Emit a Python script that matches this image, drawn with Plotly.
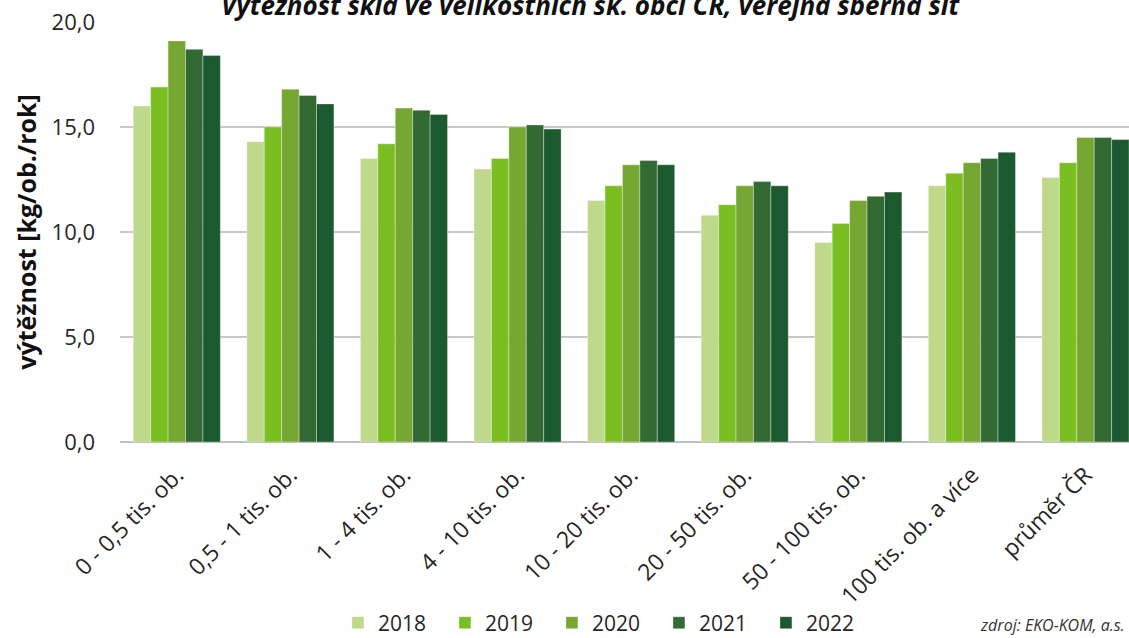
import plotly.graph_objects as go

categories = ["0 - 0,5 tis. ob.", "0,5 - 1 tis. ob.", "1 - 4 tis. ob.", "4 - 10 tis. ob.",
              "10 - 20 tis. ob.", "20 - 50 tis. ob.", "50 - 100 tis. ob.",
              "100 tis. ob. a více", "průměr ČR"]
years = ["2018", "2019", "2020", "2021", "2022"]
v2018 = [16.0, 14.3, 13.5, 13.0, 11.5, 10.8, 9.5, 12.2, 12.6]
v2019 = [16.9, 15.0, 14.2, 13.5, 12.2, 11.3, 10.4, 12.8, 13.3]
v2020 = [19.1, 16.8, 15.9, 15.0, 13.2, 12.2, 11.5, 13.3, 14.5]
v2021 = [18.7, 16.5, 15.8, 15.1, 13.4, 12.4, 11.7, 13.5, 14.5]
v2022 = [18.4, 16.1, 15.6, 14.9, 13.2, 12.2, 11.9, 13.8, 14.4]
series = [v2018, v2019, v2020, v2021, v2022]
colors = ["#BDD989", "#7BBE22", "#76A732", "#336933", "#1B592E"]

FONT = "Open Sans"
fig = go.Figure()
for yr, vals, col in zip(years, series, colors):
    fig.add_trace(go.Bar(
        x=list(range(len(categories))), y=vals, name=yr,
        marker=dict(color=col, line=dict(color="rgba(255,255,255,0.35)", width=1)),
    ))

fig.update_layout(
    width=1129, height=638,
    barmode="group", bargap=0.233, bargroupgap=0,
    plot_bgcolor="white", paper_bgcolor="white",
    margin=dict(l=120, r=0, t=22, b=196, autoexpand=False),
    separators=", ",
    font=dict(family=FONT, color="#262626"),
    showlegend=True,
    legend=dict(orientation="h", x=0.216, xanchor="left", y=-0.431, yanchor="middle",
                font=dict(size=21, family=FONT, color="#262626"),
                entrywidth=62, entrywidthmode="pixels", traceorder="normal"),
    xaxis=dict(
        tickmode="array", tickvals=list(range(len(categories))), ticktext=categories,
        range=[-0.5, 8.383], tickangle=-45, showgrid=False, ticks="",
        tickfont=dict(size=23, family=FONT, color="#262626"),
        ticklabelstandoff=14,
        showline=False, zeroline=False, automargin=False,
    ),
    yaxis=dict(
        range=[0, 20], tickvals=[0, 5, 10, 15, 20], tickformat=".1f",
        showgrid=True, gridcolor="#C8C8C8", gridwidth=1.5,
        zeroline=True, zerolinecolor="#C0C0C0", zerolinewidth=1.5,
        tickfont=dict(size=22, family=FONT, color="#262626"),
        ticklabelstandoff=24, showline=False, automargin=False,
        title=dict(text="<b>výtěžnost [kg/ob./rok]</b>",
                   font=dict(size=25, family=FONT, color="#111111"), standoff=7),
    ),
    annotations=[
        dict(text="<b><i>Výtěžnost skla ve velikostních sk. obcí ČR, veřejná sběrná síť</i></b>",
             xref="paper", yref="paper", x=0.468, y=1.040, xanchor="center", yanchor="middle",
             showarrow=False, font=dict(size=26, family=FONT, color="#111111")),
        dict(text="<i>zdroj: EKO-KOM, a.s.</i>", xref="paper", yref="paper",
             x=0.998, y=-0.436, xanchor="right", yanchor="middle", showarrow=False,
             font=dict(size=16, family=FONT, color="#333333")),
    ],
)

fig.write_html("out.html", config={"displayModeBar": False},
               post_script="document.body.style.margin='0';document.body.style.overflow='hidden';")
